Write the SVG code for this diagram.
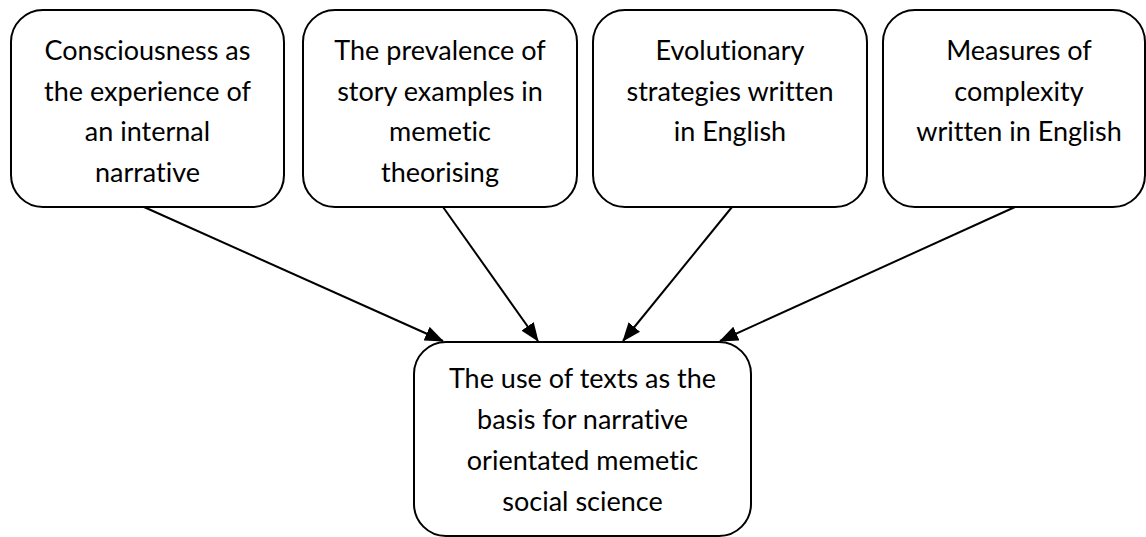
<svg xmlns="http://www.w3.org/2000/svg" width="1146" height="537" viewBox="0 0 1146 537">
<style>
.box{fill:#fff;stroke:#000;stroke-width:2}
.lbl{font-family:Lato,"Open Sans","Liberation Sans",sans-serif;font-size:27px;fill:#000;text-anchor:middle;font-variant-ligatures:none}
.con{stroke:#000;stroke-width:2;fill:none}
</style>
<defs>
<marker id="ah" markerUnits="userSpaceOnUse" markerWidth="19" markerHeight="15" refX="18" refY="7.5" orient="auto" viewBox="0 0 19 15">
<path d="M0,0 L19,7.5 L0,15 z" fill="#000"/>
</marker>
</defs>
<rect width="1146" height="537" fill="#fff"/>
<g id="n1">
<rect class="box" x="11" y="10" width="273" height="197" rx="32" ry="32"/>
<text class="lbl" x="147.5" y="60">Consciousness as</text>
<text class="lbl" x="147.5" y="100.5">the experience of</text>
<text class="lbl" x="147.5" y="141">an internal</text>
<text class="lbl" x="147.5" y="181.5">narrative</text>
</g>
<g id="n2">
<rect class="box" x="303" y="10" width="274" height="197" rx="32" ry="32"/>
<text class="lbl" x="440" y="60">The prevalence of</text>
<text class="lbl" x="440" y="100.5">story examples in</text>
<text class="lbl" x="440" y="141">memetic</text>
<text class="lbl" x="440" y="181.5">theorising</text>
</g>
<g id="n3">
<rect class="box" x="593" y="10" width="274" height="197" rx="32" ry="32"/>
<text class="lbl" x="730" y="60">Evolutionary</text>
<text class="lbl" x="730" y="100.5">strategies written</text>
<text class="lbl" x="730" y="141">in English</text>
</g>
<g id="n4">
<rect class="box" x="883" y="10" width="262" height="197" rx="32" ry="32"/>
<text class="lbl" x="1019" y="60">Measures of</text>
<text class="lbl" x="1019" y="100.5">complexity</text>
<text class="lbl" x="1019" y="141">written in English</text>
</g>
<g id="n5">
<rect class="box" x="414" y="342" width="337" height="194" rx="32" ry="32"/>
<text class="lbl" x="582.5" y="388">The use of texts as the</text>
<text class="lbl" x="582.5" y="429">basis for narrative</text>
<text class="lbl" x="582.5" y="470">orientated memetic</text>
<text class="lbl" x="582.5" y="511">social science</text>
</g>
<g id="connectors">
<line class="con" x1="144" y1="207" x2="443" y2="341" marker-end="url(#ah)"/>
<line class="con" x1="443" y1="207" x2="538" y2="341" marker-end="url(#ah)"/>
<line class="con" x1="732" y1="207" x2="623" y2="341" marker-end="url(#ah)"/>
<line class="con" x1="1015" y1="207" x2="720" y2="341" marker-end="url(#ah)"/>
</g>
</svg>
